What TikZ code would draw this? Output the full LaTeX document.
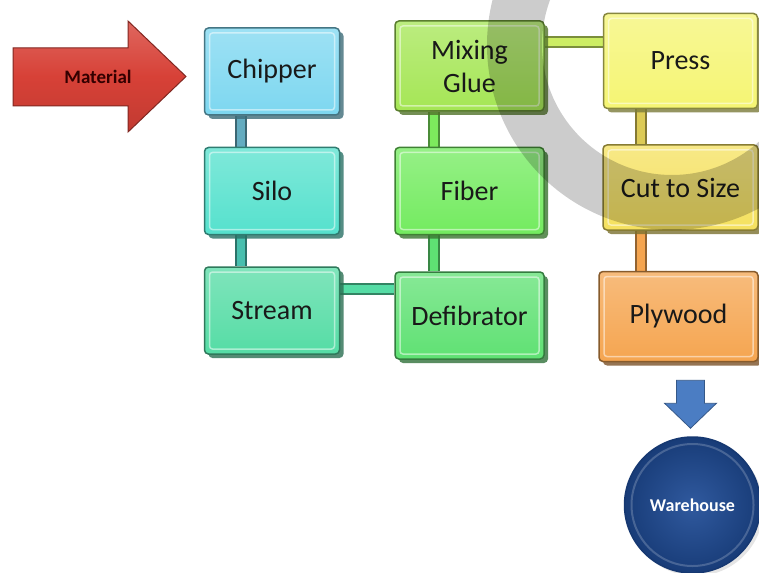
\documentclass[tikz,border=0pt]{standalone}
\usepackage{fontspec}
\setmainfont{Carlito}
\usetikzlibrary{positioning,shadows,backgrounds}

% stage colours
\definecolor{chipcol}{RGB}{125,215,240}
\definecolor{silocol}{RGB}{85,225,205}
\definecolor{streamcol}{RGB}{85,220,165}
\definecolor{defibcol}{RGB}{95,225,115}
\definecolor{fibercol}{RGB}{115,235,95}
\definecolor{mixcol}{RGB}{165,230,85}
\definecolor{presscol}{RGB}{245,245,115}
\definecolor{cutcol}{RGB}{245,225,95}
\definecolor{plycol}{RGB}{245,165,80}
\definecolor{matred}{RGB}{215,65,55}
\definecolor{storeblue}{RGB}{30,75,150}
\definecolor{dropblue}{RGB}{75,125,195}

\tikzset{
  stage/.style={rectangle, rounded corners=4pt, draw=#1!55!black, line width=1.5pt,
    top color=#1!75!white, bottom color=#1, inner sep=0pt, align=center,
    minimum height=87pt, text=black!90, font=\fontsize{28}{33}\selectfont,
    drop shadow={shadow xshift=4pt, shadow yshift=-4pt, opacity=.8, fill=#1!50!black},
    path picture={\draw[white, opacity=.5, line width=1.5pt, rounded corners=3pt]
      ([shift={(5pt,-5pt)}]path picture bounding box.north west) rectangle
      ([shift={(-5pt,5pt)}]path picture bounding box.south east);}},
  link/.style={line width=2pt, draw=#1!60!black, double=#1, double distance=8pt},
}

\begin{document}
\begin{tikzpicture}[x=1pt,y=-1pt]
    \useasboundingbox (0,0) rectangle (759,572);

    % first column
    \node[stage=chipcol, minimum width=135pt] (chipper) at (272,71.5) {Chipper};
    \node[stage=silocol, minimum width=135pt, below=31pt of chipper] (silo) {Silo};
    \node[stage=streamcol, minimum width=135pt, below=31pt of silo] (stream) {Stream};
    % second column, going up
    \node[stage=defibcol, minimum width=149pt, right=54pt of stream, yshift=-5pt] (defibrator) {Defibrator};
    \node[stage=fibercol, minimum width=149pt, above=36pt of defibrator] (fiber) {Fiber};
    \node[stage=mixcol, minimum width=149pt, minimum height=90pt, above=35pt of fiber] (mixing) {Mixing\\Glue};
    % third column, going down
    \node[stage=presscol, minimum width=154pt, minimum height=95pt, right=58pt of mixing, yshift=5pt] (press) {Press};
    \node[stage=cutcol, minimum width=155pt, minimum height=85pt, below=35pt of press] (cutsize) {Cut to Size};
    \node[stage=plycol, minimum width=159pt, minimum height=90pt, below=40pt of cutsize, xshift=-2pt] (plywood) {Plywood};

    \node[circle, minimum size=136pt, inner sep=0pt, below=74pt of plywood, xshift=14pt,
          draw=storeblue!75!black, line width=1.5pt,
          inner color=storeblue!92!white, outer color=storeblue!80!black,
          drop shadow={shadow xshift=3pt, shadow yshift=-3pt, opacity=.2},
          text=white, font=\bfseries\fontsize{18}{20}\selectfont] (warehouse) {Warehouse};
    \draw[white, opacity=.2, line width=2pt] (warehouse.center) circle[radius=61pt];

    % white sheet and the bars between the stages
    \begin{scope}[on background layer]
        \fill[white] (0,0) rectangle (759,572);
        \draw[link=chipcol!80!black] ([xshift=-31pt]chipper.south) -- ([xshift=-31pt]silo.north);
        \draw[link=silocol!85!black] ([xshift=-31pt]silo.south) -- ([xshift=-31pt]stream.north);
        \draw[link=streamcol] ([yshift=22pt]stream.east) -- ([yshift=22pt]stream.east -| defibrator.west);
        \draw[link=defibcol] ([xshift=-36pt]defibrator.north) -- ([xshift=-36pt]fiber.south);
        \draw[link=fibercol!80!mixcol] ([xshift=-36pt]fiber.north) -- ([xshift=-36pt]mixing.south);
        \draw[link=mixcol!50!presscol] ([yshift=24pt]mixing.east) -- ([yshift=24pt]mixing.east -| press.west);
        \draw[link=cutcol!90!black] ([xshift=-40pt]press.south) -- ([xshift=-40pt]cutsize.south |- cutsize.north);
        \draw[link=plycol] ([xshift=-40pt]cutsize.south) -- ([xshift=-40pt]cutsize.south |- plywood.north);
    \end{scope}

    % incoming material
    \path[draw=matred!60!black, line width=1pt, top color=matred!80!white, bottom color=matred!90!black, middle color=matred]
        (13,48) -- (128,48) -- (128,21) -- (186,76.5) -- (128,132) -- (128,106) -- (13,106) -- cycle;
    \node[font=\bfseries\fontsize{19}{21}\selectfont, text=black!80!red] (material) at (98,77) {Material};

    % down to the warehouse
    \coordinate (drop) at ([xshift=12pt, yshift=-18pt]plywood.south);
    \fill[dropblue, draw=dropblue!70!black, line width=.8pt]
        ([xshift=-14pt]drop) -- ++(0,-23pt) -- ++(-12pt,0) -- ++(26pt,-25pt)
        -- ++(26pt,25pt) -- ++(-12pt,0) -- ++(0,23pt) -- cycle;

    % grey ring over the top right
    \begin{scope}
        \clip (0,0) rectangle (759,572);
        \fill[black, opacity=.2, even odd rule] (672,45) circle[radius=185pt] (672,45) circle[radius=130pt];
    \end{scope}
\end{tikzpicture}
\end{document}
